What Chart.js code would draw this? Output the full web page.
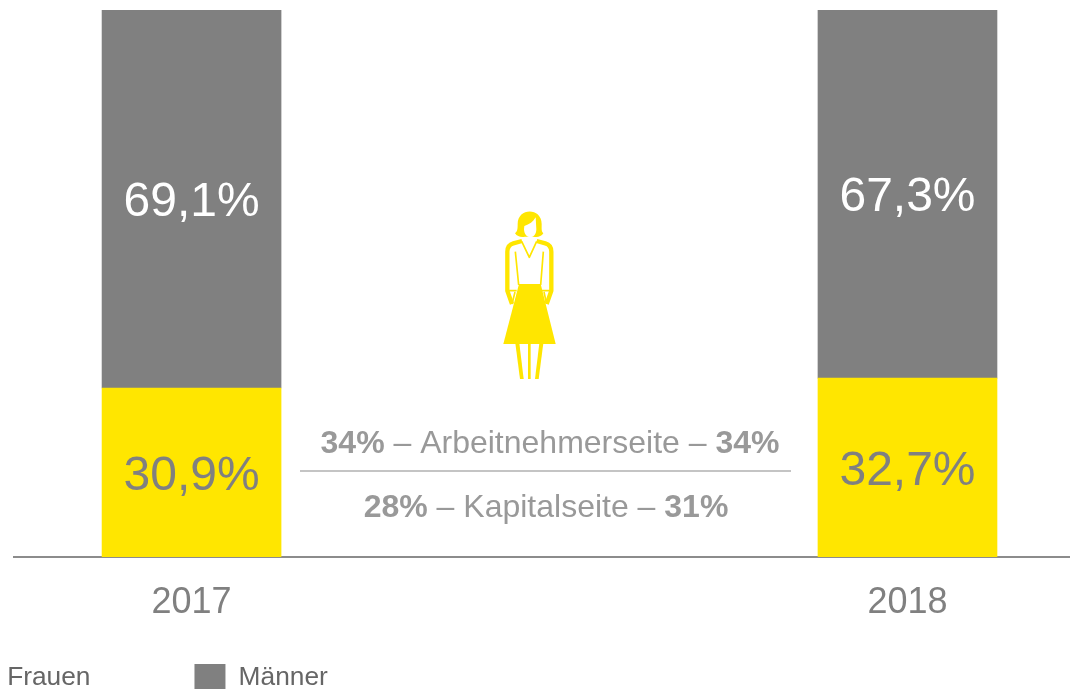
<!DOCTYPE html>
<html><head><meta charset="utf-8">
<style>html,body{margin:0;padding:0;background:#fff;overflow:hidden}#w{width:1070px;height:689px;position:relative}</style>
<script src="https://cdn.jsdelivr.net/npm/chart.js@4/dist/chart.umd.min.js"></script>
</head><body><div id="w"><canvas id="c" width="1070" height="689"></canvas></div>
<script>
const years = [2017, 2018];
const frauen = [30.9, 32.7];
const maenner = [69.1, 67.3];
const seriesNames = ['Frauen', 'Männer'];
const centerRows = [
  {y: 453, cx: 550, parts: [['34%', true], [' – Arbeitnehmerseite – ', false], ['34%', true]]},
  {y: 517, cx: 546, parts: [['28%', true], [' – Kapitalseite – ', false], ['31%', true]]}
];
const FONT = '"Liberation Sans", Arial, sans-serif';
const YELLOW = '#FFE600', GREY = '#808080', TXT = '#808080';

const fmt = v => v.toFixed(1).replace('.', ',') + '%';

const barLabels = {
  id: 'barLabels',
  afterDatasetsDraw(chart) {
    const ctx = chart.ctx;
    ctx.save();
    ctx.font = '48px ' + FONT;
    ctx.textAlign = 'center';
    ctx.textBaseline = 'middle';
    chart.data.datasets.forEach((ds, di) => {
      ctx.fillStyle = di === 0 ? TXT : '#ffffff';
      chart.getDatasetMeta(di).data.forEach((el, i) => {
        const c = el.getCenterPoint();
        ctx.fillText(fmt(ds.data[i].y), c.x, c.y + 4);
      });
    });
    ctx.restore();
  }
};

const centerPanel = {
  id: 'centerPanel',
  afterDraw(chart) {
    const ctx = chart.ctx;
    ctx.save();
    ctx.strokeStyle = '#c4c4c4';
    ctx.lineWidth = 2;
    ctx.beginPath(); ctx.moveTo(300, 471); ctx.lineTo(791, 471); ctx.stroke();
    ctx.fillStyle = '#999999';
    ctx.textAlign = 'left';
    ctx.textBaseline = 'alphabetic';
    const f = b => (b ? 'bold ' : '') + '32px ' + FONT;
    centerRows.forEach(r => {
      let tot = 0;
      r.parts.forEach(p => { ctx.font = f(p[1]); tot += ctx.measureText(p[0]).width; });
      let x = r.cx - tot / 2;
      r.parts.forEach(p => { ctx.font = f(p[1]); ctx.fillText(p[0], x, r.y); x += ctx.measureText(p[0]).width; });
    });
    ctx.translate(480, 200);
    ctx.scale(1 / 3, 1 / 3);
    ctx.fillStyle = YELLOW;
    ctx.strokeStyle = YELLOW;
    // hair
    ctx.beginPath();
    ctx.moveTo(113, 72);
    ctx.bezierCurveTo(113, 22, 185, 22, 185, 72);
    ctx.bezierCurveTo(185, 88, 184, 94, 190, 100);
    ctx.bezierCurveTo(184, 110, 172, 113, 160, 110);
    ctx.lineTo(135, 110);
    ctx.bezierCurveTo(124, 113, 112, 110, 105, 100);
    ctx.bezierCurveTo(112, 94, 113, 88, 113, 72);
    ctx.fill();
    // face
    ctx.fillStyle = '#ffffff';
    ctx.beginPath();
    ctx.moveTo(133, 78);
    ctx.bezierCurveTo(148, 74, 160, 65, 167, 52);
    ctx.lineTo(169, 88);
    ctx.bezierCurveTo(169, 120, 133, 120, 132, 88);
    ctx.closePath();
    ctx.fill();
    ctx.fillStyle = YELLOW;
    ctx.lineJoin = 'round';
    ctx.lineWidth = 13;
    ctx.beginPath();
    ctx.moveTo(126, 123); ctx.lineTo(100, 130);
    ctx.quadraticCurveTo(82, 135, 82, 155);
    ctx.lineTo(82, 272); ctx.lineTo(96, 312);
    ctx.moveTo(170, 123); ctx.lineTo(196, 130);
    ctx.quadraticCurveTo(214, 135, 214, 155);
    ctx.lineTo(214, 272); ctx.lineTo(200, 312);
    ctx.stroke();
    ctx.lineWidth = 5;
    ctx.beginPath();
    ctx.moveTo(125, 124); ctx.lineTo(148, 172); ctx.lineTo(170, 124);
    ctx.moveTo(106, 155); ctx.lineTo(116, 255);
    ctx.moveTo(190, 155); ctx.lineTo(182, 255);
    ctx.moveTo(84, 272); ctx.lineTo(110, 272);
    ctx.moveTo(186, 272); ctx.lineTo(212, 272);
    ctx.moveTo(105, 276); ctx.lineTo(96, 312);
    ctx.moveTo(192, 276); ctx.lineTo(200, 312);
    ctx.stroke();
    ctx.beginPath();
    ctx.moveTo(117, 252); ctx.lineTo(182, 252); ctx.lineTo(227, 432); ctx.lineTo(70, 432);
    ctx.closePath(); ctx.fill();
    [[106, 118, 131, 120], [144, 152, 152, 144], [190, 178, 165, 176]].forEach(l => {
      ctx.beginPath();
      ctx.moveTo(l[0], 430); ctx.lineTo(l[1], 430); ctx.lineTo(l[2], 537); ctx.lineTo(l[3], 537);
      ctx.closePath(); ctx.fill();
    });
    ctx.restore();
  }
};

const placeLegend = {
  id: 'placeLegend',
  beforeLayout(chart) {
    const l = chart.legend;
    if (!l._fitPatched) {
      const fit = l.fit;
      l.fit = function () { fit.call(this); this.height = 0; };
      l._fitPatched = true;
    }
  },
  afterLayout(chart) {
    const l = chart.legend;
    const pad = l.options.labels.padding;
    l.left = -37 - pad;
    l.right = 1400;
    l.top = 664 - pad;
    l.bottom = 800;
  }
};

new Chart(document.getElementById('c'), {
  type: 'bar',
  data: {
    datasets: [
      {label: seriesNames[0], data: years.map((x, i) => ({x, y: frauen[i]})), backgroundColor: YELLOW, barThickness: 179},
      {label: seriesNames[1], data: years.map((x, i) => ({x, y: maenner[i]})), backgroundColor: GREY, barThickness: 179}
    ]
  },
  options: {
    responsive: false,
    animation: false,
    layout: {padding: {left: 14, right: 0, top: 10, bottom: 0}},
    plugins: {
      tooltip: {enabled: false},
      title: {display: false},
      legend: {
        display: true,
        position: 'bottom',
        align: 'start',
        onClick: null,
        labels: {
          boxWidth: 31, boxHeight: 28, padding: 104,
          color: '#666666',
          font: {family: FONT, size: 26.3}
        }
      }
    },
    scales: {
      x: {
        type: 'linear',
        stacked: true,
        offset: false,
        min: 2016.752,
        max: 2018.227,
        grid: {display: false, drawTicks: false, offset: false},
        border: {display: true, color: '#8c8c8c', width: 2},
        afterFit(s) { s.height = 132; },
        afterBuildTicks(s) { s.ticks = years.map(v => ({value: v})); },
        ticks: {
          color: TXT,
          padding: 24,
          maxRotation: 0,
          autoSkip: false,
          font: {family: FONT, size: 36},
          callback: v => String(v)
        }
      },
      y: {
        stacked: true,
        display: false,
        min: 0,
        max: 100
      }
    }
  },
  plugins: [placeLegend, barLabels, centerPanel]
});
</script></body></html>
